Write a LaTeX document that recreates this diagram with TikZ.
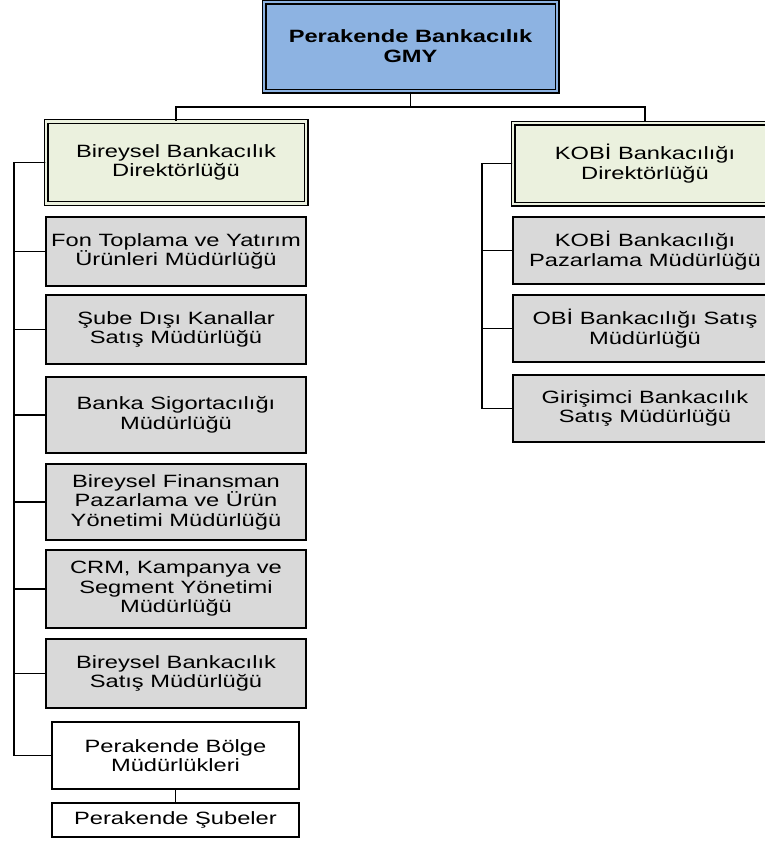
\documentclass[tikz,border=0pt]{standalone}
\usepackage{fontspec}
\setmainfont{Liberation Sans}[FakeStretch=1.33]
\usepackage{xcolor}
\usepackage{tikz}
\usetikzlibrary{positioning}

\definecolor{gmyblue}{HTML}{8DB3E2}
\definecolor{dirgreen}{HTML}{EBF1DE}
\definecolor{unitgray}{HTML}{D9D9D9}

\tikzset{
  unit/.style={draw=black, line width=1.5pt, align=center, inner sep=2pt,
    font=\fontsize{17.8}{19.5}\selectfont, minimum width=260pt},
  gmybox/.style={unit, fill=gmyblue, double=gmyblue, double distance=2.2pt,
    line width=1.4pt, minimum width=293pt, minimum height=89pt, font=\fontsize{17.8}{20}\selectfont\bfseries},
  dirbox/.style={unit, fill=dirgreen, double=dirgreen, double distance=2.2pt,
    line width=1.4pt, minimum height=81pt},
  graybox/.style={unit, fill=unitgray},
  whitebox/.style={unit, fill=white, minimum width=247pt},
  link/.style={-, draw=black, line width=1.7pt}
}

\begin{document}
\begin{tikzpicture}[x=1pt, y=-1pt]
  \path[use as bounding box, clip] (0,0) rectangle (765,849);
  \fill[white] (0,0) rectangle (765,849);

  \node[gmybox] (gmy) at (410.5,46.5) {Perakende Bankacılık\\GMY};

  % directors
  \node[dirbox, minimum height=82pt] (bireysel) at (176,162.5) {Bireysel Bankacılık\\Direktörlüğü};
  \node[dirbox, minimum width=264pt] (kobi) at (645,163.5) {KOBİ Bankacılığı\\Direktörlüğü};

  % left column
  \node[graybox, minimum height=69pt] (fon) at (176,251.5) {Fon Toplama ve Yatırım\\Ürünleri Müdürlüğü};
  \node[graybox, minimum height=69pt] (sube) at (176,329.5) {Şube Dışı Kanallar\\Satış Müdürlüğü};
  \node[graybox, minimum height=76pt] (sigorta) at (176,415) {Banka Sigortacılığı\\Müdürlüğü};
  \node[graybox, minimum height=76pt] (finans) at (176,502) {Bireysel Finansman\\Pazarlama ve Ürün\\Yönetimi Müdürlüğü};
  \node[graybox, minimum height=78pt] (crm) at (176,589) {CRM, Kampanya ve\\Segment Yönetimi\\Müdürlüğü};
  \node[graybox, minimum height=69pt] (satis) at (176,673.5) {Bireysel Bankacılık\\Satış Müdürlüğü};
  \node[whitebox, minimum height=67pt] (bolge) at (175.5,755.5) {Perakende Bölge\\Müdürlükleri};
  \node[whitebox, minimum height=34pt] (subeler) at (175.5,820) {Perakende Şubeler};

  % right column
  \node[graybox, minimum width=264pt, minimum height=67pt] (pazar) at (645,250.5) {KOBİ Bankacılığı\\Pazarlama Müdürlüğü};
  \node[graybox, minimum width=264pt, minimum height=67pt] (obi) at (645,328.5) {OBİ Bankacılığı Satış\\Müdürlüğü};
  \node[graybox, minimum width=264pt, minimum height=67pt] (girisim) at (645,408.5) {Girişimci Bankacılık\\Satış Müdürlüğü};

  % connectors
  \coordinate (bus) at (410.5,107);
  \draw[link] (gmy.south) -- (bus);
  \draw[link] (bus) -| (bireysel.north);
  \draw[link] (bus) -| (kobi.north);
  \foreach \n in {fon,sube,sigorta,finans,crm,satis,bolge}
    \draw[link] (bireysel.west) -- ++(-31,0) |- (\n.west);
  \foreach \n in {pazar,obi,girisim}
    \draw[link] (kobi.west) -- ++(-30,0) |- (\n.west);
  \draw[link] (bolge.south) -- (subeler.north);
\end{tikzpicture}
\end{document}
